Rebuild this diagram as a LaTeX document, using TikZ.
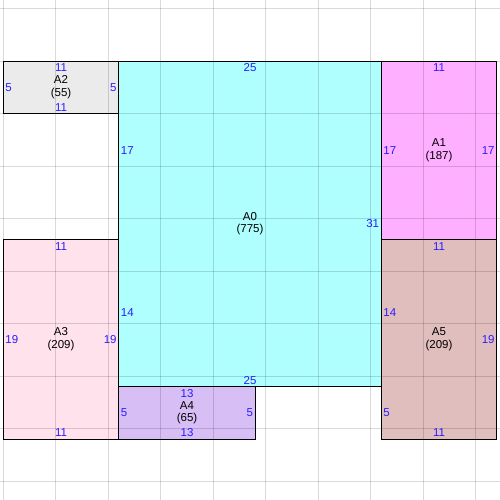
\documentclass[tikz,border=0pt]{standalone}
\usepackage{fontspec}
\setmainfont{Liberation Sans}
\definecolor{areagray}{RGB}{235,235,235}
\definecolor{areacyan}{RGB}{175,255,255}
\definecolor{areamagenta}{RGB}{255,175,255}
\definecolor{areapink}{RGB}{255,226,236}
\definecolor{arealilac}{RGB}{215,190,245}
\definecolor{arearose}{RGB}{225,190,190}
\definecolor{lenblue}{RGB}{40,30,255}
\begin{document}
\begin{tikzpicture}[x=10.5pt, y=-10.5pt]
\tikzstyle{areabox}=[draw=none, inner sep=0pt, outer sep=0pt]
\tikzstyle{gridline}=[black, opacity=0.15, line width=1pt]
\tikzstyle{border}=[black, line width=1pt]
\tikzstyle{areaname}=[align=center, font=\fontsize{11.5}{12.5}\selectfont]
\tikzstyle{lenlabel}=[text=lenblue, font=\fontsize{11.5}{12}\selectfont, inner sep=2pt]
\useasboundingbox (-0.31,-5.81) rectangle (47.31,41.81);

% areas
\node[areabox, fill=areagray, minimum width=115.5pt, minimum height=52.5pt] (A2) at (5.5,2.5) {};
\node[areabox, fill=areacyan, minimum width=262.5pt, minimum height=325.5pt] (A0) at (23.5,15.5) {};
\node[areabox, fill=areamagenta, minimum width=115.5pt, minimum height=178.5pt] (A1) at (41.5,8.5) {};
\node[areabox, fill=areapink, minimum width=115.5pt, minimum height=199.5pt] (A3) at (5.5,26.5) {};
\node[areabox, fill=arealilac, minimum width=136.5pt, minimum height=52.5pt] (A4) at (17.5,33.5) {};
\node[areabox, fill=arearose, minimum width=115.5pt, minimum height=199.5pt] (A5) at (41.5,26.5) {};

% grid on top of the fills
\foreach \x in {0,5,...,45} \draw[gridline] (\x,-5.81) -- (\x,41.81);
\foreach \y in {-5,0,...,40} \draw[gridline] (-0.31,\y) -- (47.31,\y);

\foreach \n in {A0,A1,A2,A3,A4,A5}
  \draw[border] (\n.north west) rectangle (\n.south east);

% names
\node[areaname] (A0n) at (A0) {A0\\(775)};
\node[areaname] (A1n) at (A1) {A1\\(187)};
\node[areaname] (A2n) at (A2) {A2\\(55)};
\node[areaname] (A3n) at (A3) {A3\\(209)};
\node[areaname] (A4n) at (A4) {A4\\(65)};
\node[areaname] (A5n) at (A5) {A5\\(209)};

% side lengths
\node[lenlabel, anchor=north, inner ysep=2.4pt] (A2t) at (A2.north) {11};
\node[lenlabel, anchor=south] (A2b) at (A2.south) {11};
\node[lenlabel, anchor=west] (A2l) at (A2.west) {5};
\node[lenlabel, anchor=east] (A2r) at (A2.east) {5};

\node[lenlabel, anchor=north, inner ysep=2.4pt] (A0t) at (A0.north) {25};
\node[lenlabel, anchor=south] (A0b) at (A0.south) {25};
\node[lenlabel, anchor=west] (A0l) at (11,8.5) {17};
\node[lenlabel, anchor=west] (A0m) at (11,24) {14};
\node[lenlabel, anchor=east] (A0r) at (A0.east) {31};

\node[lenlabel, anchor=north, inner ysep=2.4pt] (A1t) at (A1.north) {11};
\node[lenlabel, anchor=west] (A1l) at (A1.west) {17};
\node[lenlabel, anchor=east] (A1r) at (A1.east) {17};

\node[lenlabel, anchor=north, inner ysep=2.4pt] (A3t) at (A3.north) {11};
\node[lenlabel, anchor=south] (A3b) at (A3.south) {11};
\node[lenlabel, anchor=west] (A3l) at (A3.west) {19};
\node[lenlabel, anchor=east] (A3r) at (A3.east) {19};

\node[lenlabel, anchor=north, inner ysep=2.4pt] (A4t) at (A4.north) {13};
\node[lenlabel, anchor=south] (A4b) at (A4.south) {13};
\node[lenlabel, anchor=west] (A4l) at (A4.west) {5};
\node[lenlabel, anchor=east] (A4r) at (A4.east) {5};

\node[lenlabel, anchor=north, inner ysep=2.4pt] (A5t) at (A5.north) {11};
\node[lenlabel, anchor=south] (A5b) at (A5.south) {11};
\node[lenlabel, anchor=west] (A5l) at (36,24) {14};
\node[lenlabel, anchor=west] (A5m) at (36,33.5) {5};
\node[lenlabel, anchor=east] (A5r) at (A5.east) {19};
\end{tikzpicture}
\end{document}
